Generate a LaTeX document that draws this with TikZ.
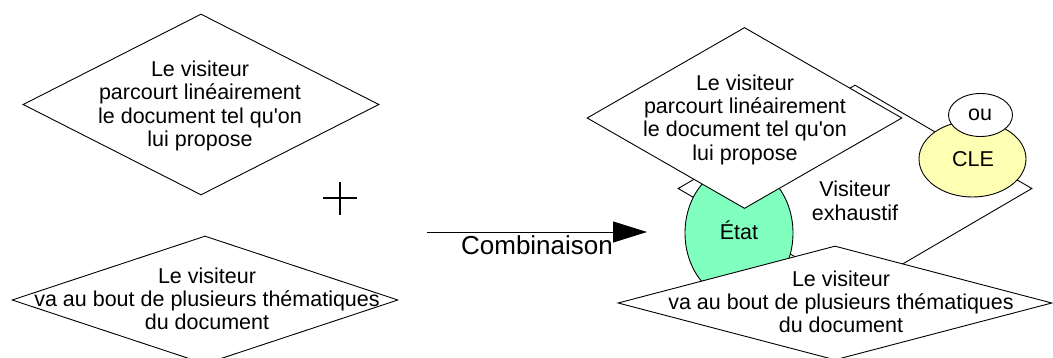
\documentclass[tikz,border=0pt]{standalone}
\usepackage{fontspec}
\setmainfont{Liberation Sans}[Ligatures=TeXOff]
\usetikzlibrary{shapes.geometric,arrows.meta}
\definecolor{etatgreen}{RGB}{128,255,191}
\definecolor{cleyellow}{RGB}{255,255,179}
\begin{document}
\begin{tikzpicture}[x=1pt,y=-1pt,
  every node/.style={font=\fontsize{21.5pt}{23.3pt}\selectfont},
  losange/.style={shape=diamond, draw, fill=white, inner sep=0pt, line width=0.9pt},
  bulle/.style={shape=ellipse, draw, inner sep=0pt, line width=0.9pt},
  txt/.style={align=center, inner sep=0pt},
  lbl/.style={anchor=base, inner sep=0pt},
]
\useasboundingbox (0,0) rectangle (1053,358);

% --- left: the two behaviours taken separately ---
\node[losange, minimum width=356pt, minimum height=181pt] (lt) at (201,104.5) {};
\node[txt] (ltT) at (200,106) {Le visiteur\\parcourt linéairement\\le document tel qu'on\\lui propose};

\node[losange, minimum width=386pt, minimum height=128pt] (lb) at (205,300) {};
\node[txt] (lbT) at (207,299) {Le visiteur\\va au bout de plusieurs thématiques\\du document};

% plus sign
\draw[line width=1.6pt] (323,198) -- (357,198) (340,182) -- (340,215);

% combination arrow
\coordinate (arrS) at (427,232);
\coordinate (arrE) at (647,232);
\draw[line width=0.9pt, -{Triangle[length=34pt,width=21pt]}] (arrS) -- (arrE);
\node[lbl, font=\fontsize{26pt}{28pt}\selectfont] (comb) at (537,255) {Combinaison};

% --- right: the combined state ---
\node[losange, minimum width=354pt, minimum height=207pt] (ve) at (855,188.5) {};
\node[bulle, fill=cleyellow, minimum width=107pt, minimum height=76pt] (cle) at (972.5,159) {};
\node[bulle, fill=white, minimum width=64pt, minimum height=43pt] (ou) at (980.5,115) {};
\node[bulle, fill=etatgreen, minimum width=108pt, minimum height=134pt] (etat) at (739,233) {};

\node[losange, minimum width=315pt, minimum height=181pt] (rt) at (744.5,118) {};
\node[losange, minimum width=434pt, minimum height=114pt] (rb) at (835,303) {};

\node[txt] (veT) at (855,200.7) {Visiteur\\exhaustif};
\node[lbl] (cleT) at (973,166.7) {CLE};
\node[lbl] (ouT) at (980,120.7) {ou};
\node[lbl] (etatT) at (739,240) {État};
\node[txt] (rtT) at (745,119.5) {Le visiteur\\parcourt linéairement\\le document tel qu'on\\lui propose};
\node[txt] (rbT) at (841,302) {Le visiteur\\va au bout de plusieurs thématiques\\du document};
\end{tikzpicture}
\end{document}
